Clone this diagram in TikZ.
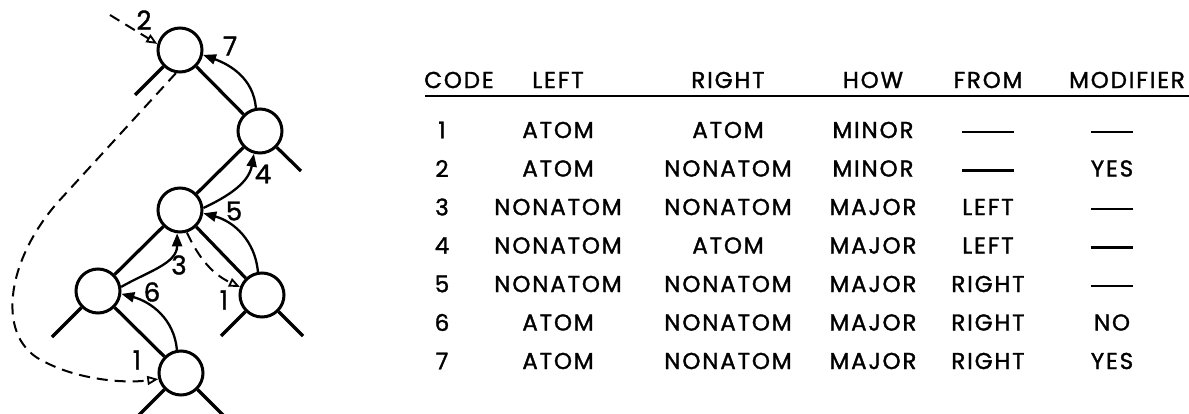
\documentclass[tikz,border=0pt]{standalone}
\usepackage{fontspec}
\setmainfont{Poppins}[FakeBold=1.4, LetterSpace=8]
\usetikzlibrary{arrows.meta}

\begin{document}
\begin{tikzpicture}[x=1pt,y=1pt]
      %styles for tree and table
      \tikzset{
      vtx/.style={circle, draw, line width=3pt, inner sep=0pt, minimum size=44pt},
      edge/.style={line width=3.2pt},
      link/.style={line width=2.3pt, -{Triangle[length=13pt,width=10pt]}},
      thread/.style={line width=2pt, dash pattern=on 11pt off 7pt,
        -{Triangle[open,length=11pt,width=9pt,line width=1.8pt]}},
      lbl/.style={font=\fontsize{26}{26}\selectfont, inner sep=0pt},
      cell/.style={font=\fontsize{23}{23}\selectfont, inner sep=0pt},
      }
      \useasboundingbox (0,0) rectangle (1189,-414);

      %Tree - nodes
      \node[vtx] (n1) at (180,-50) {};
      \node[vtx] (n2) at (260,-131) {};
      \node[vtx] (n3) at (180,-210) {};
      \node[vtx] (n4) at (98,-291) {};
      \node[vtx] (n5) at (262,-295) {};
      \node[vtx] (n6) at (181,-373) {};
      %loose ends
      \coordinate (s1) at (135,-95);
      \coordinate (s2) at (301,-171);
      \coordinate (s4) at (52,-337);
      \coordinate (s5a) at (221,-336);
      \coordinate (s5b) at (303,-336);
      \coordinate (s6a) at (137,-417);
      \coordinate (s6b) at (225,-417);
      \draw[edge] (n1) -- (s1);
      \draw[edge] (n1) -- (n2);
      \draw[edge] (n2) -- (s2);
      \draw[edge] (n2) -- (n3);
      \draw[edge] (n3) -- (n4);
      \draw[edge] (n3) -- (n5);
      \draw[edge] (n4) -- (s4);
      \draw[edge] (n4) -- (n6);
      \draw[edge] (n5) -- (s5a);
      \draw[edge] (n5) -- (s5b);
      \draw[edge] (n6) -- (s6a);
      \draw[edge] (n6) -- (s6b);

      %upward links
      \draw[link] (n2.100) to[out=95,in=-20] (n1.-12);
      \draw[link] (n3.5) to[out=25,in=-100] (n2.-105);
      \draw[link] (n5.100) to[out=95,in=-15] (n3.-8);
      \draw[link] (n4.10) to[out=30,in=-90] (n3.-97);
      \draw[link] (n6.100) to[out=95,in=-15] (n4.-7);

      %threads (dashed)
      \coordinate (c2) at (110,-15);
      \coordinate (lp) at (58,-202);
      \draw[thread] (c2) -- (n1.165);
      \draw[thread] (n3.-73) to[out=-65,in=155] (n5.160);
      \draw[thread] (n1.-100) -- (lp) .. controls (5,-262) and (-5,-340) .. (45,-362)
        .. controls (75,-378) and (120,-384) .. (n6.-165);

      %labels
      \node[lbl] (t2) at (144,-20) {2};
      \node[lbl] (t7) at (230,-46) {7};
      \node[lbl] (t4) at (263,-174) {4};
      \node[lbl] (t5) at (234,-211) {5};
      \node[lbl] (t3) at (179,-265) {3};
      \node[lbl] (t6) at (152,-292) {6};
      \node[lbl] (t1) at (224,-300) {1};
      \node[lbl] (t1') at (137,-360) {1};

      %Table - header
      \node[cell] (hk) at (459,-80) {CODE};
      \node[cell] (hl) at (558,-80) {LEFT};
      \node[cell] (hr) at (728,-80) {RIGHT};
      \node[cell] (hh) at (873,-80) {HOW};
      \node[cell] (hf) at (988,-80) {FROM};
      \node[cell] (hm) at (1127,-80) {MODIFIER};
      \coordinate (ra) at (425,-96);
      \coordinate (rb) at (1189,-96);
      \draw[line width=2pt] (ra) -- (rb);

      %Table - rows
      \node[cell] (k1) at (442,-130) {1};
      \node[cell] (l1) at (558,-130) {ATOM};
      \node[cell] (r1) at (728,-130) {ATOM};
      \node[cell] (h1) at (873,-130) {MINOR};
      \node[cell] (f1) at (988,-132) {\rule{52pt}{2.2pt}};
      \node[cell] (m1) at (1112,-132) {\rule{42pt}{2.2pt}};

      \node[cell] (k2) at (442,-168.5) {2};
      \node[cell] (l2) at (558,-168.5) {ATOM};
      \node[cell] (r2) at (728,-168.5) {NONATOM};
      \node[cell] (h2) at (873,-168.5) {MINOR};
      \node[cell] (f2) at (988,-170.5) {\rule{52pt}{2.2pt}};
      \node[cell] (m2) at (1112,-168.5) {YES};

      \node[cell] (k3) at (442,-207) {3};
      \node[cell] (l3) at (558,-207) {NONATOM};
      \node[cell] (r3) at (728,-207) {NONATOM};
      \node[cell] (h3) at (873,-207) {MAJOR};
      \node[cell] (f3) at (988,-207) {LEFT};
      \node[cell] (m3) at (1112,-209) {\rule{42pt}{2.2pt}};

      \node[cell] (k4) at (442,-245.5) {4};
      \node[cell] (l4) at (558,-245.5) {NONATOM};
      \node[cell] (r4) at (728,-245.5) {ATOM};
      \node[cell] (h4) at (873,-245.5) {MAJOR};
      \node[cell] (f4) at (988,-245.5) {LEFT};
      \node[cell] (m4) at (1112,-247.5) {\rule{42pt}{2.2pt}};

      \node[cell] (k5) at (442,-284) {5};
      \node[cell] (l5) at (558,-284) {NONATOM};
      \node[cell] (r5) at (728,-284) {NONATOM};
      \node[cell] (h5) at (873,-284) {MAJOR};
      \node[cell] (f5) at (988,-284) {RIGHT};
      \node[cell] (m5) at (1112,-286) {\rule{42pt}{2.2pt}};

      \node[cell] (k6) at (442,-322.5) {6};
      \node[cell] (l6) at (558,-322.5) {ATOM};
      \node[cell] (r6) at (728,-322.5) {NONATOM};
      \node[cell] (h6) at (873,-322.5) {MAJOR};
      \node[cell] (f6) at (988,-322.5) {RIGHT};
      \node[cell] (m6) at (1112,-322.5) {NO};

      \node[cell] (k7) at (442,-361) {7};
      \node[cell] (l7) at (558,-361) {ATOM};
      \node[cell] (r7) at (728,-361) {NONATOM};
      \node[cell] (h7) at (873,-361) {MAJOR};
      \node[cell] (f7) at (988,-361) {RIGHT};
      \node[cell] (m7) at (1112,-361) {YES};
\end{tikzpicture}
\end{document}
